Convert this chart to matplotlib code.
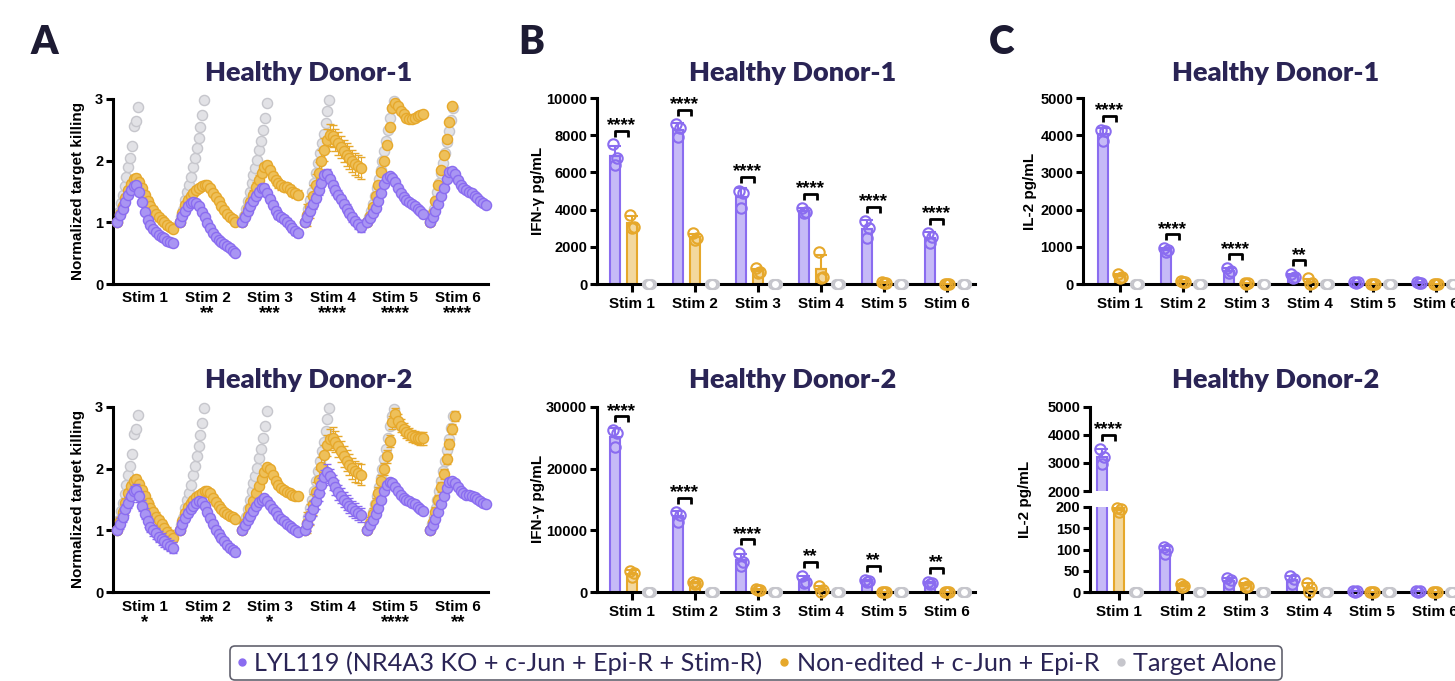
import numpy as np
import matplotlib
matplotlib.use("Agg")
import matplotlib.pyplot as plt
from matplotlib.lines import Line2D
from matplotlib.transforms import blended_transform_factory

W, H = 1455, 681

stims = ["Stim 1", "Stim 2", "Stim 3", "Stim 4", "Stim 5", "Stim 6"]
series_names = ["LYL119 (NR4A3 KO + c-Jun + Epi-R + Stim-R)",
                "Non-edited + c-Jun + Epi-R", "Target Alone"]

# ---- panel A: normalized target killing, time course per stim ----
a_d1_lyl = [
    [1.00, 1.12, 1.22, 1.33, 1.44, 1.52, 1.59, 1.60, 1.50, 1.33, 1.17, 1.04, 0.95, 0.89, 0.85, 0.80, 0.76, 0.74, 0.70, 0.68, 0.66],
    [1.00, 1.10, 1.19, 1.26, 1.31, 1.33, 1.32, 1.26, 1.17, 1.08, 0.99, 0.91, 0.83, 0.77, 0.72, 0.68, 0.65, 0.62, 0.58, 0.54, 0.51],
    [1.00, 1.09, 1.18, 1.27, 1.35, 1.43, 1.50, 1.55, 1.56, 1.48, 1.38, 1.28, 1.19, 1.12, 1.08, 1.05, 1.01, 0.96, 0.91, 0.86, 0.82],
    [1.00, 1.09, 1.19, 1.29, 1.40, 1.52, 1.64, 1.76, 1.79, 1.70, 1.60, 1.52, 1.45, 1.38, 1.30, 1.22, 1.15, 1.08, 1.02, 0.97, 0.92],
    [1.00, 1.07, 1.15, 1.24, 1.35, 1.48, 1.62, 1.72, 1.75, 1.72, 1.65, 1.56, 1.47, 1.41, 1.37, 1.33, 1.30, 1.27, 1.22, 1.18, 1.14],
    [1.00, 1.09, 1.19, 1.30, 1.42, 1.55, 1.70, 1.82, 1.84, 1.78, 1.68, 1.60, 1.56, 1.53, 1.50, 1.47, 1.43, 1.39, 1.35, 1.31, 1.28],
]
a_d1_non = [
    [1.00, 1.14, 1.27, 1.40, 1.52, 1.62, 1.70, 1.72, 1.66, 1.56, 1.45, 1.35, 1.27, 1.20, 1.14, 1.08, 1.04, 1.00, 0.96, 0.93, 0.90],
    [1.00, 1.15, 1.28, 1.37, 1.43, 1.48, 1.52, 1.56, 1.59, 1.61, 1.60, 1.55, 1.48, 1.41, 1.34, 1.27, 1.20, 1.14, 1.09, 1.05, 1.01],
    [1.00, 1.10, 1.22, 1.33, 1.45, 1.58, 1.69, 1.80, 1.90, 1.93, 1.85, 1.75, 1.68, 1.63, 1.60, 1.58, 1.57, 1.54, 1.50, 1.47, 1.45],
    [1.00, 1.12, 1.25, 1.42, 1.60, 1.80, 2.00, 2.18, 2.33, 2.42, 2.40, 2.34, 2.28, 2.22, 2.16, 2.10, 2.05, 2.00, 1.95, 1.91, 1.88],
    [1.00, 1.10, 1.25, 1.42, 1.60, 1.82, 2.00, 2.25, 2.55, 2.85, 2.93, 2.88, 2.81, 2.75, 2.70, 2.68, 2.68, 2.70, 2.72, 2.74, 2.75],
    [1.00, 1.15, 1.35, 1.60, 1.85, 2.10, 2.35, 2.62, 2.88],
]
a_d2_lyl = [
    [1.00, 1.11, 1.22, 1.34, 1.45, 1.55, 1.63, 1.66, 1.55, 1.40, 1.27, 1.15, 1.06, 1.00, 0.95, 0.90, 0.86, 0.82, 0.78, 0.75, 0.72],
    [1.00, 1.10, 1.20, 1.28, 1.35, 1.40, 1.44, 1.47, 1.46, 1.40, 1.30, 1.20, 1.10, 1.01, 0.94, 0.88, 0.82, 0.77, 0.72, 0.68, 0.65],
    [1.00, 1.08, 1.16, 1.24, 1.32, 1.40, 1.46, 1.50, 1.52, 1.48, 1.41, 1.35, 1.29, 1.23, 1.19, 1.15, 1.11, 1.07, 1.03, 1.00, 0.97],
    [1.00, 1.11, 1.23, 1.35, 1.47, 1.60, 1.73, 1.86, 1.95, 1.88, 1.78, 1.70, 1.62, 1.56, 1.50, 1.45, 1.40, 1.36, 1.32, 1.28, 1.25],
    [1.00, 1.08, 1.16, 1.26, 1.37, 1.50, 1.63, 1.74, 1.79, 1.76, 1.70, 1.63, 1.57, 1.53, 1.50, 1.48, 1.45, 1.42, 1.38, 1.34, 1.31],
    [1.00, 1.09, 1.19, 1.30, 1.42, 1.55, 1.68, 1.78, 1.80, 1.77, 1.70, 1.64, 1.60, 1.58, 1.57, 1.56, 1.54, 1.51, 1.48, 1.45, 1.43],
]
a_d2_non = [
    [1.00, 1.15, 1.30, 1.45, 1.60, 1.72, 1.80, 1.83, 1.75, 1.65, 1.55, 1.45, 1.37, 1.29, 1.22, 1.16, 1.10, 1.04, 0.98, 0.93, 0.88],
    [1.00, 1.15, 1.28, 1.38, 1.45, 1.50, 1.54, 1.58, 1.61, 1.63, 1.64, 1.60, 1.53, 1.46, 1.40, 1.35, 1.30, 1.27, 1.24, 1.21, 1.19],
    [1.00, 1.12, 1.24, 1.36, 1.48, 1.60, 1.72, 1.84, 1.95, 2.02, 2.00, 1.90, 1.80, 1.73, 1.68, 1.65, 1.62, 1.60, 1.58, 1.56, 1.55],
    [1.00, 1.12, 1.25, 1.42, 1.62, 1.82, 2.02, 2.22, 2.38, 2.48, 2.50, 2.44, 2.36, 2.28, 2.20, 2.13, 2.06, 2.01, 1.96, 1.93, 1.90],
    [1.00, 1.12, 1.26, 1.42, 1.60, 1.80, 2.00, 2.20, 2.45, 2.75, 2.88, 2.78, 2.70, 2.64, 2.60, 2.56, 2.53, 2.51, 2.50, 2.49, 2.49],
    [1.00, 1.13, 1.30, 1.50, 1.70, 1.92, 2.15, 2.40, 2.65, 2.85],
]
# target alone is the same curve in both donors (values above 3 are off scale)
a_target = [
    [1.00, 1.17, 1.31, 1.45, 1.59, 1.74, 1.89, 2.05, 2.23, 2.56, 2.65, 2.87],
    [1.00, 1.09, 1.20, 1.36, 1.50, 1.60, 1.74, 1.89, 2.05, 2.20, 2.36, 2.54, 2.74, 2.98],
    [1.00, 1.10, 1.22, 1.35, 1.50, 1.63, 1.77, 1.88, 2.01, 2.17, 2.32, 2.50, 2.70, 2.93],
    [1.00, 1.10, 1.22, 1.36, 1.50, 1.64, 1.80, 1.96, 2.12, 2.28, 2.44, 2.61, 2.80, 2.99],
    [1.00, 1.08, 1.18, 1.30, 1.43, 1.56, 1.70, 1.85, 2.00, 2.15, 2.32, 2.50, 2.70, 2.85, 2.96],
    [1.00, 1.10, 1.22, 1.36, 1.50, 1.64, 1.80, 1.96, 2.12, 2.30, 2.48, 2.66, 2.85],
]
a_d1_lyl_sd = [0.04, 0.02, 0.06, 0.07, 0.03, 0.02]
a_d1_non_sd = [0.06, 0.05, 0.07, 0.18, 0.03, 0.03]
a_d2_lyl_sd = [0.09, 0.06, 0.03, 0.12, 0.03, 0.02]
a_d2_non_sd = [0.07, 0.04, 0.05, 0.17, 0.10, 0.08]
a_target_sd = 0.02
a_d1_sig = ["", "**", "***", "****", "****", "****"]
a_d2_sig = ["*", "**", "*", "", "****", "**"]

# ---- panel B: IFN-g pg/mL, three replicates per stim ----
b_d1_lyl = [[7500, 6750, 6400], [8600, 8380, 7930], [5010, 4880, 4075],
            [4110, 3895, 3840], [3390, 3000, 2460], [2760, 2550, 2190]]
b_d1_non = [[3715, 3090, 3000], [2730, 2460, 2370], [845, 665, 575],
            [1705, 400, 300], [100, 60, 40], [20, 10, 5]]
b_d2_lyl = [[26200, 25800, 23500], [13000, 12450, 11300], [6250, 4900, 4250],
            [2600, 1670, 1400], [2000, 1800, 1600], [1700, 1500, 1300]]
b_d2_non = [[3450, 3130, 2400], [1700, 1500, 1300], [500, 400, 300],
            [1000, 320, 50], [50, 30, 10], [20, 10, 0]]
b_d1_sig = ["****", "****", "****", "****", "****", "****"]
b_d2_sig = ["****", "****", "****", "**", "**", "**"]

# ---- panel C: IL-2 pg/mL ----
c_d1_lyl = [[4150, 4100, 3850], [960, 920, 870], [420, 350, 300],
            [260, 200, 170], [60, 50, 40], [50, 40, 30]]
c_d1_non = [[260, 200, 150], [80, 60, 50], [30, 20, 10],
            [150, 30, 0], [0, 0, 0], [0, 0, 0]]
c_d2_lyl = [[3500, 3200, 2950], [106, 101, 90], [32, 28, 20],
            [37, 30, 20], [3, 2, 1], [3, 2, 1]]
c_d2_non = [[198, 195, 188], [18, 15, 12], [22, 15, 12],
            [22, 9, 0], [0, 0, 0], [0, 0, 0]]
c_d1_sig = ["****", "****", "****", "**", "", ""]
c_d2_sig = ["****", "", "", "", "", ""]
target_cyto = [[0, 0, 0]] * 6

PURPLE = "#8a6cf0"
PURPLE_FILL = "#a995f3"
PURPLE_BAR = "#c6baf7"
ORANGE = "#e6a82b"
ORANGE_FILL = "#eec05a"
ORANGE_BAR = "#f3d89e"
GRAY = "#c6c6cc"
GRAY_FILL = "#e2e2e6"
NAVY = "#2a2455"

plt.rcParams["font.family"] = "Liberation Sans"
plt.rcParams["font.weight"] = "bold"
HEAD = ["Lato", "DejaVu Sans"]

fig = plt.figure(figsize=(W / 100, H / 100), dpi=100)


def axes_px(left, top, right, bottom):
    return fig.add_axes([left / W, 1 - bottom / H, (right - left) / W, (bottom - top) / H])


def style(ax, show_bottom=True):
    ax.spines["top"].set_visible(False)
    ax.spines["right"].set_visible(False)
    ax.spines["left"].set_linewidth(2.2)
    ax.spines["bottom"].set_linewidth(2.2)
    ax.spines["bottom"].set_visible(show_bottom)
    ax.tick_params(axis="y", width=2.2, length=5, labelsize=10.5, pad=2)
    ax.tick_params(axis="x", width=2.2, length=6, labelbottom=False)
    ax.patch.set_alpha(0)


def under_text(ax, x, py, s, size):
    tr = blended_transform_factory(ax.transData, fig.transFigure)
    ax.text(x, 1 - py / H, s, transform=tr, ha="center", va="center",
            fontsize=size, fontweight="bold", clip_on=False)


SEG = 1.12
STEP = 0.05
GSTEP = 0.034


def killing_panel(ax, lyl, non, lyl_sd, non_sd, sig, label_py, star_py):
    style(ax)
    for i in range(6):
        x0 = i * SEG
        gy = np.array(a_target[i])
        gx = x0 + np.arange(len(gy)) * GSTEP
        ax.errorbar(gx, gy, yerr=a_target_sd, fmt="o", ms=7.3, mfc=GRAY_FILL, mec=GRAY,
                    mew=1, ecolor=GRAY, elinewidth=0.8, capsize=2.5, capthick=0.8,
                    zorder=2, clip_on=False)
        for vals, sd, ec, fc, z in [(non[i], non_sd[i], ORANGE, ORANGE_FILL, 3),
                                    (lyl[i], lyl_sd[i], PURPLE, PURPLE_FILL, 4)]:
            y = np.array(vals)
            x = x0 + np.arange(len(y)) * STEP
            err = np.full(len(y), sd)
            err[0] = 0
            ax.errorbar(x, y, yerr=err, fmt="o", ms=7.3, mfc=fc, mec=ec, mew=1,
                        ecolor=ec, elinewidth=0.8, capsize=3, capthick=0.8,
                        zorder=z, clip_on=False)
        c = x0 + 0.5
        under_text(ax, c, label_py, stims[i], 11)
        if sig[i]:
            under_text(ax, c, star_py, sig[i], 13.5)
    ax.set_xlim(-0.07, 6.64)
    ax.set_ylim(0, 3)
    ax.set_yticks([0, 1, 2, 3])
    ax.set_xticks([])


OFF = [-0.27, 0.0, 0.27]
JIT = [-0.03, 0.03, 0.0]


def bar_groups(ax, groups, lo=None, hi=None, clip=False):
    for i in range(6):
        for j, (reps, ec, fc) in enumerate(groups[i]):
            x = i + OFF[j]
            reps = np.array(reps, dtype=float)
            m = reps.mean()
            sd = reps.std(ddof=1)
            if fc is not None:
                ax.bar(x, m, width=0.16, color=fc, edgecolor=ec, linewidth=1.5, zorder=2)
                ax.errorbar(x, m, yerr=[[0], [sd]], fmt="none", ecolor=ec, elinewidth=1.5,
                            capsize=4, capthick=1.5, zorder=3)
                ms, mfc = 7.5, "none"
            else:
                ms, mfc = 6.5, "white"
            xs = x + np.array(JIT)
            keep = np.ones(3, bool)
            if lo is not None:
                keep &= reps >= lo
            if hi is not None:
                keep &= reps <= hi
            ax.plot(xs[keep], reps[keep], "o", ms=ms, mfc=mfc, mec=ec, mew=1.5,
                    zorder=5, clip_on=clip)


def brackets(ax, lyl, non, sig, scale):
    for i in range(6):
        if not sig[i]:
            continue
        top = max(max(lyl[i]), max(non[i])) + 14 * scale
        x1, x2 = i + OFF[0], i + OFF[1] - 0.07
        ax.plot([x1, x1, x2, x2], [top - 6 * scale, top, top, top - 6 * scale],
                color="black", lw=2, solid_capstyle="butt", zorder=6, clip_on=False)
        ax.text((x1 + x2) / 2, top + 5 * scale, sig[i], ha="center", va="center",
                fontsize=13.5, fontweight="bold", clip_on=False)


def make_groups(lyl, non):
    return [[(lyl[i], PURPLE, PURPLE_BAR), (non[i], ORANGE, ORANGE_BAR),
             (target_cyto[i], GRAY, None)] for i in range(6)]


def cyto_panel(ax, lyl, non, sig, ymax, yticks, height_px, label_py, xlim):
    style(ax)
    bar_groups(ax, make_groups(lyl, non))
    brackets(ax, lyl, non, sig, ymax / height_px)
    ax.set_xlim(*xlim)
    ax.set_ylim(0, ymax)
    ax.set_yticks(yticks)
    ax.set_xticks(range(6))
    for i in range(6):
        under_text(ax, i, label_py, stims[i], 11)


# panel A
axA1 = axes_px(113, 99, 488, 284)
killing_panel(axA1, a_d1_lyl, a_d1_non, a_d1_lyl_sd, a_d1_non_sd, a_d1_sig, 298, 314)
axA2 = axes_px(113, 407, 488, 592)
killing_panel(axA2, a_d2_lyl, a_d2_non, a_d2_lyl_sd, a_d2_non_sd, a_d2_sig, 607, 623)

# panel B
axB1 = axes_px(597, 98, 975, 284)
cyto_panel(axB1, b_d1_lyl, b_d1_non, b_d1_sig, 10000, range(0, 10001, 2000), 186, 304, (-0.556, 5.44))
axB2 = axes_px(597, 407, 975, 592)
cyto_panel(axB2, b_d2_lyl, b_d2_non, b_d2_sig, 30000, [0, 10000, 20000, 30000], 185, 612, (-0.556, 5.44))

# panel C
axC1 = axes_px(1083, 98, 1464, 284)
cyto_panel(axC1, c_d1_lyl, c_d1_non, c_d1_sig, 5000, range(0, 5001, 1000), 186, 304, (-0.585, 5.44))

# panel C donor 2 with broken axis
axC2t = axes_px(1090, 407, 1463, 491)
style(axC2t, show_bottom=False)
bar_groups(axC2t, make_groups(c_d2_lyl, c_d2_non), lo=2000, clip=True)
brackets(axC2t, [[r for r in g if r >= 2000] or [0] for g in c_d2_lyl], [[0]] * 6, c_d2_sig, 3000 / 84)
axC2t.set_xlim(-0.464, 5.44)
axC2t.set_ylim(2000, 5000)
axC2t.set_yticks([2000, 3000, 4000, 5000])
axC2t.set_xticks([])

axC2b = axes_px(1090, 507, 1463, 592)
style(axC2b)
bar_groups(axC2b, make_groups(c_d2_lyl, c_d2_non), hi=200)
axC2b.set_xlim(-0.464, 5.44)
axC2b.set_ylim(0, 200)
axC2b.set_yticks([0, 50, 100, 150, 200])
axC2b.set_xticks(range(6))
for i in range(6):
    under_text(axC2b, i, 612, stims[i], 11)

# axis labels
for px, py, s in [(78, 191, "Normalized target killing"), (78, 499, "Normalized target killing"),
                  (538, 191, "IFN-\u03b3 pg/mL"), (538, 499, "IFN-\u03b3 pg/mL"),
                  (1030, 191, "IL-2 pg/mL"), (1025, 499, "IL-2 pg/mL")]:
    fig.text(px / W, 1 - py / H, s, rotation=90, ha="center", va="center",
             fontsize=11, fontweight="bold")

# titles and panel letters
for px, py, s in [(309, 73, "Healthy Donor-1"), (793, 73, "Healthy Donor-1"), (1276, 73, "Healthy Donor-1"),
                  (309, 380, "Healthy Donor-2"), (793, 380, "Healthy Donor-2"), (1276, 380, "Healthy Donor-2")]:
    fig.text(px / W, 1 - py / H, s, ha="center", va="center", fontsize=19.5,
             fontweight="heavy", family=HEAD, color=NAVY)
for px, s in [(44, "A"), (531, "B"), (1002, "C")]:
    fig.text(px / W, 1 - 42 / H, s, ha="center", va="center", fontsize=28,
             fontweight="heavy", family=HEAD, color="#1d1b33")

handles = [Line2D([], [], marker="o", ls="none", ms=5, mfc=c, mec=c)
           for c in [PURPLE, ORANGE, GRAY]]
leg = fig.legend(handles, series_names, loc="center", bbox_to_anchor=(756 / W, 1 - 663 / H),
                 ncol=3, frameon=True, fancybox=True, handlelength=0.5, handletextpad=0.25,
                 columnspacing=0.6, borderpad=0.2, labelcolor=NAVY,
                 prop={"family": HEAD, "size": 18.2, "weight": "normal"})
leg.get_frame().set_edgecolor("#3a3a4a")
leg.get_frame().set_linewidth(1.2)

fig.savefig("out.png", dpi=100)
